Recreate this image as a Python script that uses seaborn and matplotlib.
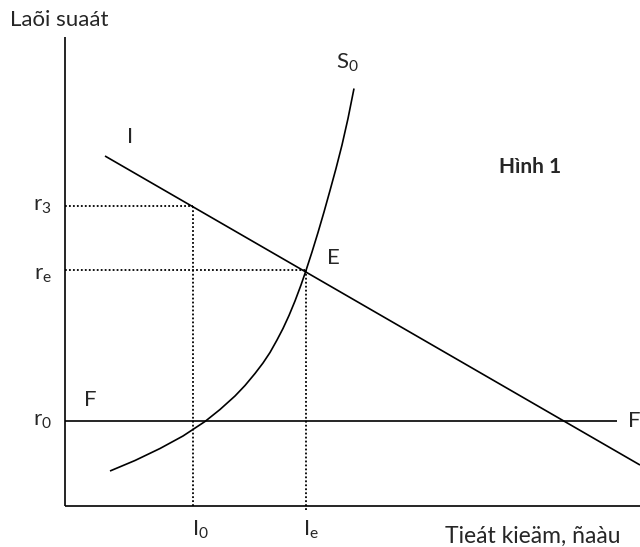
import numpy as np
import pandas as pd
import matplotlib
matplotlib.use("Agg")
import matplotlib.pyplot as plt
import seaborn as sns

# -------------------------------------------------
# Style
# -------------------------------------------------
sns.set_theme(style="white")
plt.rcParams["font.family"] = ["Lato", "DejaVu Sans"]
plt.rcParams["mathtext.default"] = "regular"

LINE_COLOR = "black"

# -------------------------------------------------
# Data (diagram units: x = savings/investment, y = interest rate)
# -------------------------------------------------
# investment demand curve I
invest_x = [0.8, 11.5]
invest_y = [7.0, 0.82]

# saving supply curve S0
supply_x = [0.90, 1.40, 1.90, 2.36, 2.80, 3.10, 3.40, 3.60, 3.80, 3.96, 4.10, 4.24, 4.36,
            4.48, 4.60, 4.72, 4.82, 4.94, 5.06, 5.18, 5.30, 5.42, 5.54, 5.66, 5.78]
supply_y = [0.70, 0.91, 1.15, 1.40, 1.69, 1.93, 2.20, 2.41, 2.65, 2.86, 3.07, 3.32, 3.55,
            3.81, 4.10, 4.42, 4.71, 5.08, 5.47, 5.88, 6.31, 6.75, 7.22, 7.75, 8.35]

# horizontal F line at r0
f_x = [0.0, 11.04]
r0 = 1.7

# reference levels
r3 = 6.0
re = 4.72
i0 = 2.56
ie = 4.82

y_axis_top = 9.38
x_axis_right = 11.6

# -------------------------------------------------
# Figure
# -------------------------------------------------
fig = plt.figure(figsize=(6.4, 5.47), dpi=100)
ax = fig.add_axes([0, 0, 1, 1])
ax.set_xlim(-1.3, 11.5)
ax.set_ylim(-0.82, 10.12)
ax.axis("off")

lw = 1.2
solid = dict(color=LINE_COLOR, lw=lw, estimator=None, sort=False, ax=ax,
             solid_joinstyle="round", solid_capstyle="butt")

# axes of the diagram
sns.lineplot(x=[0, 0], y=[0, y_axis_top], **solid)
sns.lineplot(x=[0, x_axis_right], y=[0, 0], **solid)

# curves
sns.lineplot(x=invest_x, y=invest_y, **solid)
sns.lineplot(x=supply_x, y=supply_y, **solid)
sns.lineplot(x=f_x, y=[r0, r0], **solid)

# dotted guides
dot = dict(color=LINE_COLOR, lw=1.3, linestyle=(0, (1, 1.2)),
           estimator=None, sort=False, ax=ax)
sns.lineplot(x=[0, i0], y=[r3, r3], **dot)
sns.lineplot(x=[i0, i0], y=[0, r3], **dot)
sns.lineplot(x=[0, ie], y=[re, re], **dot)
sns.lineplot(x=[ie, ie], y=[-0.08, re], **dot)

# -------------------------------------------------
# Labels
# -------------------------------------------------
fs = 16
ax.text(-1.1, 9.72, "Laõi suaát", fontsize=fs, va="center", ha="left")
ax.text(-0.27, r3, "r$_3$", fontsize=fs, va="center", ha="right")
ax.text(-0.27, re - 0.1, "r$_e$", fontsize=fs, va="center", ha="right")
ax.text(-0.27, r0, "r$_0$", fontsize=fs, va="center", ha="right")
ax.text(0.5, 2.12, "F", fontsize=fs, va="center", ha="center")
ax.text(11.25, r0, "F", fontsize=fs, va="center", ha="left")
ax.text(1.3, 7.38, "I", fontsize=fs, va="center", ha="center")
ax.text(5.64, 8.86, "S$_0$", fontsize=fs, va="center", ha="center")
ax.text(5.36, 4.96, "E", fontsize=fs, va="center", ha="center")
ax.text(9.3, 6.78, "Hình 1", fontsize=fs - 1, fontweight="bold", va="center", ha="center")
ax.text(i0 + 0.14, -0.48, "I$_0$", fontsize=fs, va="center", ha="center")
ax.text(ie + 0.1, -0.48, "I$_e$", fontsize=fs, va="center", ha="center")
ax.text(7.6, -0.6, "Tieát kieäm, ñaàu", fontsize=16.5, va="center", ha="left")

fig.savefig("out.png", dpi=100)
